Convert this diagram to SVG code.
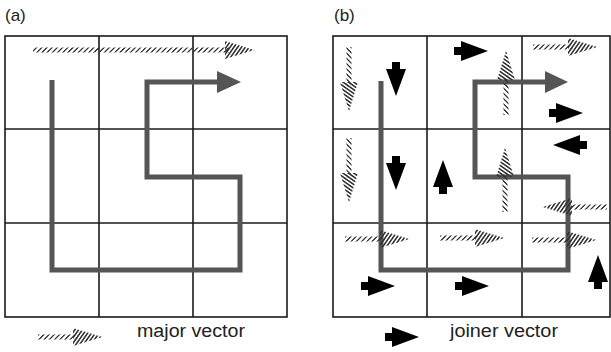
<svg xmlns="http://www.w3.org/2000/svg" width="611" height="352" viewBox="0 0 611 352">
<style>
.grid{fill:none;stroke:#1a1a1a;stroke-width:1.6}
.route{fill:none;stroke:#555;stroke-width:5;stroke-linejoin:miter}
.routehead{fill:#555}
.lbl{font-family:"Liberation Sans",Arial,sans-serif;fill:#222}
.joiner{fill:#000}
</style>
<defs>
<pattern id="hs" patternUnits="userSpaceOnUse" width="5.2" height="10" patternTransform="skewX(-45)"><rect width="1.8" height="10" fill="#333"/></pattern>
<pattern id="hh" patternUnits="userSpaceOnUse" width="3.8" height="10" patternTransform="skewX(-35)"><rect width="1.9" height="10" fill="#333"/></pattern>
<symbol id="mv" overflow="visible">
<rect x="-65" y="-2.5" width="40" height="5" fill="url(#hs)"/>
<polygon points="-30,-9 -4,-1 0,0 -4,1 -30,9" fill="url(#hh)"/>
</symbol>
<symbol id="jv" overflow="visible">
<path d="M-17,-4 L-10,-4 L-10,-10 L17,0 L-10,10 L-10,4 L-17,4 Z"/>
</symbol>
</defs>
<rect width="611" height="352" fill="#fff"/>

<text class="lbl" x="5" y="21" font-size="17">(a)</text>
<text class="lbl" x="334" y="21" font-size="17">(b)</text>

<g id="gridA" class="grid">
<rect x="5" y="36" width="282" height="281"/>
<line x1="99" y1="36" x2="99" y2="317"/>
<line x1="193" y1="36" x2="193" y2="317"/>
<line x1="5" y1="129" x2="287" y2="129"/>
<line x1="5" y1="223" x2="287" y2="223"/>
</g>
<g id="gridB" class="grid">
<rect x="333" y="36" width="277" height="281"/>
<line x1="427" y1="36" x2="427" y2="317"/>
<line x1="522" y1="36" x2="522" y2="317"/>
<line x1="333" y1="129" x2="610" y2="129"/>
<line x1="333" y1="223" x2="610" y2="223"/>
</g>

<g id="connectors">
<g id="routeA">
<path class="route" d="M52,80 V270 H240 V177 H147 V82 H222"/>
<polygon class="routehead" points="217,71 241,82 217,93"/>
</g>
<g id="routeB">
<path class="route" d="M381,81 V270 H568 V177 H475 V82 H548"/>
<polygon class="routehead" points="545,71 568,82 545,93"/>
</g>
</g>

<g id="majorA">
<rect x="33" y="47.5" width="196" height="5" fill="url(#hs)"/>
<polygon points="225,41 251,49 255,50 251,51 225,59" fill="url(#hh)"/>
</g>

<g id="majorB">
<use href="#mv" transform="translate(349,112) rotate(90)"/>
<use href="#mv" transform="translate(506,50) rotate(-90)"/>
<use href="#mv" transform="translate(598,47)"/>
<use href="#mv" transform="translate(349,203) rotate(90)"/>
<use href="#mv" transform="translate(505,147) rotate(-90)"/>
<use href="#mv" transform="translate(542,207) rotate(180)"/>
<use href="#mv" transform="translate(410,239)"/>
<use href="#mv" transform="translate(505,238)"/>
<use href="#mv" transform="translate(597,240)"/>
</g>

<g id="joinerB" class="joiner">
<use href="#jv" transform="translate(396,79) rotate(90)"/>
<use href="#jv" transform="translate(471,51)"/>
<use href="#jv" transform="translate(566,113)"/>
<use href="#jv" transform="translate(396,173) rotate(90)"/>
<use href="#jv" transform="translate(443,177) rotate(-90)"/>
<use href="#jv" transform="translate(570,145) rotate(180)"/>
<use href="#jv" transform="translate(378,286)"/>
<use href="#jv" transform="translate(472,286)"/>
<use href="#jv" transform="translate(598,272) rotate(-90)"/>
</g>

<g id="legendA">
<use href="#mv" transform="translate(103,337)"/>
<text class="lbl" x="137" y="337" font-size="18" textLength="108" lengthAdjust="spacingAndGlyphs">major vector</text>
</g>
<g id="legendB">
<use href="#jv" class="joiner" transform="translate(402,337)"/>
<text class="lbl" x="450" y="337" font-size="18" textLength="108" lengthAdjust="spacingAndGlyphs">joiner vector</text>
</g>
</svg>
